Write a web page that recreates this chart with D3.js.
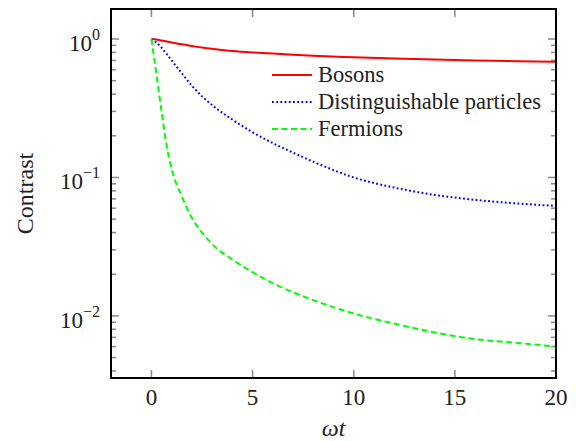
<!DOCTYPE html>
<html lang="en">
<head>
    <meta charset="UTF-8">
    <title>Contrast vs time</title>
    <script src="https://d3js.org/d3.v7.min.js"></script>
</head>
<body>
<style>
    body { margin: 0; background: #fff; }
</style>

<script>
    // sample times (omega t) and the three contrast curves
    const times = [0, 0.25, 0.5, 0.75, 1, 1.5, 2, 2.5, 3, 4, 5, 6, 7, 8, 10, 12, 14, 16, 18, 20];
    const bosons = [1, 0.99, 0.975, 0.96, 0.945, 0.915, 0.89, 0.867, 0.85, 0.82, 0.80, 0.785, 0.77, 0.757, 0.738, 0.722, 0.71, 0.70, 0.692, 0.685];
    const distinguishable = [1, 0.94, 0.865, 0.78, 0.70, 0.565, 0.46, 0.385, 0.333, 0.262, 0.212, 0.177, 0.151, 0.13, 0.1, 0.0845, 0.0748, 0.0689, 0.065, 0.0623];
    const fermions = [1, 0.55, 0.30, 0.17, 0.115, 0.073, 0.051, 0.04, 0.033, 0.0255, 0.0207, 0.0172, 0.0148, 0.013, 0.0104, 0.0088, 0.0076, 0.0068, 0.0064, 0.006];

    const seriesNames = ["Bosons", "Distinguishable particles", "Fermions"];
    const xTicks = [0, 5, 10, 15, 20];
    const yMajor = [1, 0.1, 0.01];
    const xDomain = [-2, 20];
    const yDomain = [0.00356, 1.647];

    const W = 576, H = 441;
    const margin = {left: 111, top: 9, right: 20, bottom: 63};
    const iw = W - margin.left - margin.right;
    const ih = H - margin.top - margin.bottom;
    const serif = "Liberation Serif";

    const svg = d3.select("body").append("svg")
        .attr("width", W)
        .attr("height", H);

    const g = svg.append("g")
        .attr("transform", "translate(" + margin.left + "," + margin.top + ")");

    const x = d3.scaleLinear().domain(xDomain).range([0, iw]);
    const y = d3.scaleLog().domain(yDomain).range([ih, 0]);

    // minor ticks 2..9 x 10^k inside the domain
    let yMinor = [];
    for (let k = -3; k <= 0; k++) {
        for (let m = 2; m <= 9; m++) {
            const v = m * Math.pow(10, k);
            if (v > yDomain[0] && v < yDomain[1]) yMinor.push(v);
        }
    }

    const tickColor = "#888";
    // ticks point inward on all four sides
    g.selectAll(".xt").data(xTicks).enter().append("line")
        .attr("x1", d => x(d)).attr("x2", d => x(d))
        .attr("y1", ih).attr("y2", ih - 8)
        .attr("stroke", tickColor).attr("stroke-width", 1.5);
    g.selectAll(".xtt").data(xTicks).enter().append("line")
        .attr("x1", d => x(d)).attr("x2", d => x(d))
        .attr("y1", 0).attr("y2", 8)
        .attr("stroke", tickColor).attr("stroke-width", 1.5);

    const yTickData = yMajor.map(v => ({v: v, len: 8})).concat(yMinor.map(v => ({v: v, len: 5})));
    g.selectAll(".yt").data(yTickData).enter().append("line")
        .attr("x1", 0).attr("x2", d => d.len)
        .attr("y1", d => y(d.v)).attr("y2", d => y(d.v))
        .attr("stroke", tickColor).attr("stroke-width", 1.5);
    g.selectAll(".ytr").data(yTickData).enter().append("line")
        .attr("x1", iw).attr("x2", d => iw - d.len)
        .attr("y1", d => y(d.v)).attr("y2", d => y(d.v))
        .attr("stroke", tickColor).attr("stroke-width", 1.5);

    // x tick labels
    g.selectAll(".xl").data(xTicks).enter().append("text")
        .attr("x", d => x(d))
        .attr("y", ih + 27)
        .attr("text-anchor", "middle")
        .attr("font-size", 23)
        .attr("fill", "#222")
        .style("font-family", serif)
        .text(d => d);

    // y tick labels 10^k
    const yl = g.selectAll(".yl").data(yMajor).enter().append("text")
        .attr("x", -11)
        .attr("y", d => y(d) + 12)
        .attr("text-anchor", "end")
        .attr("font-size", 23)
        .attr("fill", "#222")
        .style("font-family", serif);
    yl.append("tspan").text("10");
    yl.append("tspan")
        .attr("dy", -11)
        .attr("font-size", 16)
        .text(d => Math.log10(d) === 0 ? "0" : "\u2212" + Math.abs(Math.round(Math.log10(d))));

    // curves
    const line = d3.line()
        .x(d => x(d[0]))
        .y(d => y(d[1]))
        .curve(d3.curveMonotoneX);

    const styles = [
        {color: "#ff0000", dash: null},
        {color: "#0000ff", dash: "1.8,2.4"},
        {color: "#00ff00", dash: "6,3.5"}
    ];
    const series = [bosons, distinguishable, fermions];

    g.append("defs").append("clipPath").attr("id", "clip")
        .append("rect").attr("width", iw).attr("height", ih);

    g.selectAll(".curve").data(series).enter().append("path")
        .attr("clip-path", "url(#clip)")
        .attr("d", s => line(times.map((t, i) => [t, s[i]])))
        .attr("fill", "none")
        .attr("stroke", (s, i) => styles[i].color)
        .attr("stroke-width", 2)
        .attr("stroke-dasharray", (s, i) => styles[i].dash);

    // frame
    g.append("rect")
        .attr("width", iw).attr("height", ih)
        .attr("fill", "none")
        .attr("stroke", "#000")
        .attr("stroke-width", 2);

    // legend
    const lg = g.selectAll(".leg").data(seriesNames).enter().append("g")
        .attr("transform", (d, i) => "translate(" + (272 - margin.left) + "," + (75 - margin.top + i * 27) + ")");
    lg.append("line")
        .attr("x1", 0).attr("x2", 40)
        .attr("stroke", (d, i) => styles[i].color)
        .attr("stroke-width", 2)
        .attr("stroke-dasharray", (d, i) => styles[i].dash);
    lg.append("text")
        .attr("x", 46)
        .attr("y", 7)
        .attr("font-size", 22.5)
        .attr("fill", "#222")
        .style("font-family", serif)
        .text(d => d);

    // axis labels
    svg.append("text")
        .attr("x", margin.left + iw / 2)
        .attr("y", 436)
        .attr("text-anchor", "middle")
        .attr("font-size", 24)
        .attr("font-style", "italic")
        .attr("fill", "#222")
        .style("font-family", serif)
        .text("\u03c9t");

    svg.append("text")
        .attr("transform", "translate(33," + (margin.top + ih / 2) + ") rotate(-90)")
        .attr("text-anchor", "middle")
        .attr("font-size", 24)
        .attr("fill", "#222")
        .style("font-family", serif)
        .text("Contrast");
</script>
</body>
</html>
